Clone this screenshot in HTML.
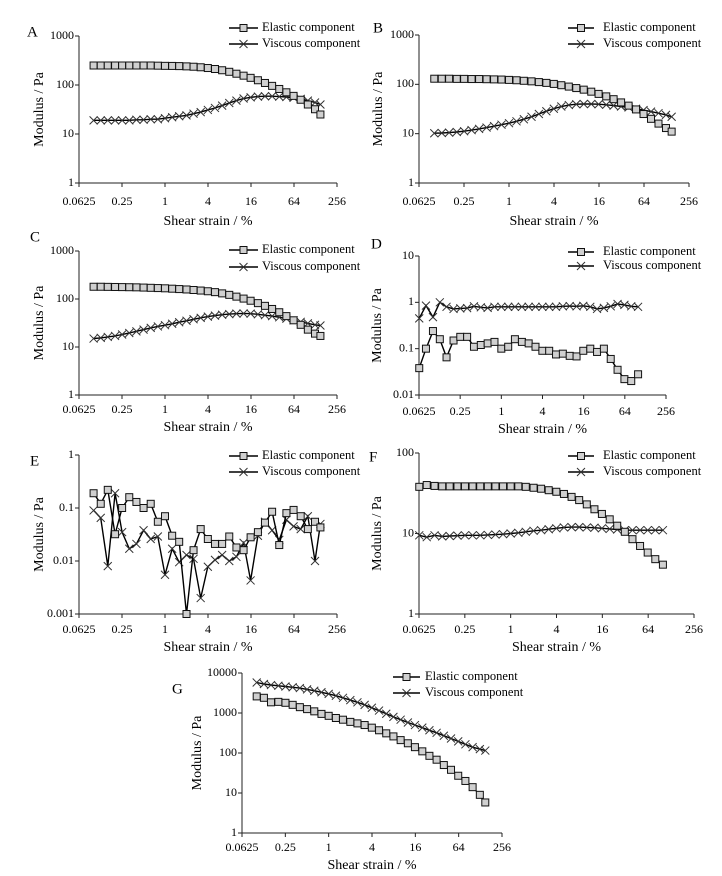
<!DOCTYPE html>
<html><head><meta charset="utf-8"><style>
html,body{margin:0;padding:0;background:#fff;}
svg{display:block;font-family:"Liberation Serif",serif;}
</style></head><body>
<svg id="fig" width="722" height="876" viewBox="0 0 722 876"></svg>
<script>
const strainA = [0.1,0.126,0.158,0.2,0.251,0.316,0.398,0.501,0.631,0.794,1,1.26,1.58,2,2.51,3.16,3.98,5.01,6.31,7.94,10,12.6,15.8,20,25.1,31.6,39.8,50.1,63.1,79.4,100,126,150];
const strainD = [0.063,0.079,0.1,0.126,0.158,0.2,0.251,0.316,0.398,0.501,0.631,0.794,1,1.26,1.58,2,2.51,3.16,3.98,5.01,6.31,7.94,10,12.6,15.8,20,25.1,31.6,39.8,50.1,63.1,79.4,100];
const xTicks = [0.0625,0.25,1,4,16,64,256];
const xTickLabels = ["0.0625","0.25","1","4","16","64","256"];

const aElastic = [250,250,250,250,250,250,250,250,250,248,246,245,243,240,236,230,222,212,200,186,170,155,140,125,110,96,83,71,60,50,40,32,25];
const aViscous = [19,19,19,19,19,19,19.5,19.5,20,20,21,22,23,24,26,28,31,34,38,43,48,53,56,58,59,59,58,57,55,52,48,44,40];
const bElastic = [130,130,130,129,129,128,128,127,126,125,123,121,118,115,111,107,102,96,90,84,78,71,64,57,50,43,37,31,25,20,16,13,11];
const bViscous = [10.2,10.3,10.5,10.8,11.2,11.8,12.5,13.3,14.2,15.2,16.3,17.8,19.6,22,25,28.5,32,35.5,38,39.5,40,40,39.5,38.5,37,35.5,34,32,30,28,26,24,22];
const cElastic = [180,180,179,178,177,176,175,173,171,169,167,164,161,158,154,150,145,139,131,122,112,102,92,82,72,62,53,44,36,29,23,19,17];
const cViscous = [15,15.5,16.2,17,18.2,19.6,21.2,23,25,26.8,28.5,30.5,32.8,35.2,37.8,40.5,43,45,47,48.5,49.5,50,49.5,48,46,44,41.5,39,36,33.5,31,29,28];
const dElastic = [0.038,0.1,0.24,0.16,0.065,0.15,0.18,0.18,0.11,0.12,0.13,0.14,0.1,0.11,0.16,0.14,0.13,0.11,0.09,0.09,0.075,0.078,0.07,0.068,0.09,0.1,0.085,0.1,0.06,0.035,0.022,0.02,0.028];
const dViscous = [0.45,0.85,0.48,1.0,0.8,0.72,0.74,0.75,0.82,0.78,0.76,0.8,0.8,0.8,0.8,0.8,0.8,0.8,0.8,0.8,0.8,0.82,0.83,0.82,0.84,0.8,0.72,0.76,0.82,0.92,0.88,0.82,0.8];
const eElastic = [0.19,0.12,0.22,0.032,0.1,0.16,0.13,0.1,0.12,0.055,0.07,0.03,0.023,0.001,0.016,0.04,0.026,0.021,0.021,0.029,0.018,0.016,0.028,0.035,0.053,0.085,0.02,0.08,0.092,0.07,0.04,0.055,0.043];
const eViscous = [0.09,0.065,0.008,0.19,0.035,0.017,0.021,0.038,0.026,0.029,0.0055,0.017,0.0095,0.013,0.011,0.002,0.0078,0.0105,0.013,0.01,0.012,0.022,0.0043,0.03,0.055,0.038,0.025,0.06,0.045,0.04,0.07,0.01,0.05];
const fElastic = [38,40,39,38.5,38.5,38.5,38.5,38.5,38.5,38.5,38.5,38.5,38.5,38.5,38,37,36,34.5,33,31,28.5,26,23,20,17.5,15,12.5,10.5,8.5,7,5.8,4.8,4.1];
const fViscous = [9.5,9,9.5,9.2,9.3,9.4,9.5,9.5,9.5,9.6,9.7,9.8,10,10.2,10.5,10.8,11,11.3,11.6,11.9,12,12,11.9,11.8,11.6,11.4,11.2,11,11,11,11,11,11];
const gElastic = [2600,2400,1850,1900,1800,1600,1400,1250,1100,950,850,750,680,600,550,500,430,370,310,260,210,175,140,110,85,68,50,38,27,20,14,9,5.8];
const gViscous = [5800,5300,5000,4800,4600,4400,4200,3900,3600,3300,3000,2700,2400,2100,1850,1600,1350,1150,960,800,680,580,500,430,370,320,270,230,195,165,140,125,115];

const yTicksA = [1,10,100,1000];
const yTicksD = [0.01,0.1,1,10];
const yTicksE = [0.001,0.01,0.1,1];
const yTicksF = [1,10,100];
const yTicksG = [1,10,100,1000,10000];

const panels = [
 {id:"a",label:"A",lx:27,ly:33,x0:79,x1:337,yT:36,yB:183,yt:yTicksA,labY:202,titY:222,ytX:40,leg:[229,258,262,28,44],x:strainA,el:aElastic,vi:aViscous},
 {id:"b",label:"B",lx:373,ly:29,x0:419,x1:689,yT:35,yB:183,yt:yTicksA,labY:202,titY:222,ytX:379,leg:[568,594,603,28,44],x:strainA,el:bElastic,vi:bViscous},
 {id:"c",label:"C",lx:30,ly:238,x0:79,x1:337,yT:251,yB:395,yt:yTicksA,labY:410,titY:428,ytX:40,leg:[229,258,262,250,267],x:strainA,el:cElastic,vi:cViscous},
 {id:"d",label:"D",lx:371,ly:245,x0:419,x1:666,yT:256,yB:395,yt:yTicksD,labY:412,titY:430,ytX:378,leg:[568,594,603,252,266],x:strainD,el:dElastic,vi:dViscous},
 {id:"e",label:"E",lx:30,ly:462,x0:79,x1:337,yT:455,yB:614,yt:yTicksE,labY:630,titY:648,ytX:40,leg:[229,258,262,456,472],x:strainA,el:eElastic,vi:eViscous},
 {id:"f",label:"F",lx:369,ly:458,x0:419,x1:694,yT:453,yB:614,yt:yTicksF,labY:630,titY:648,ytX:378,leg:[568,594,603,456,472],x:strainD,el:fElastic,vi:fViscous},
 {id:"g",label:"G",lx:172,ly:690,x0:242,x1:502,yT:673,yB:833,yt:yTicksG,labY:848,titY:866,ytX:198,leg:[393,420,425,677,693],x:strainA,el:gElastic,vi:gViscous}
];

const NS="http://www.w3.org/2000/svg";
const svg=document.getElementById("fig");
function mk(tag,attrs,parent){const e=document.createElementNS(NS,tag);for(const k in attrs)e.setAttribute(k,attrs[k]);parent.appendChild(e);return e;}
function sq(g,x,y){const r=mk("rect",{x:x-3.5,y:y-3.5,width:7,height:7,fill:"#d0d0d0",stroke:"#111","stroke-width":1},g);

}
function cross(g,x,y){const p=mk("path",{d:`M${x-4},${y-4}L${x+4},${y+4}M${x-4},${y+4}L${x+4},${y-4}`,stroke:"#333","stroke-width":1,fill:"none"},g);

}

panels.forEach(P=>{
 const g=mk("g",{},svg);
 
 
 const lx0=Math.log(0.0625), lx1=Math.log(256);
 const ly0=Math.log(P.yt[0]), ly1=Math.log(P.yt[P.yt.length-1]);
 const sx=v=>P.x0+(Math.log(v)-lx0)/(lx1-lx0)*(P.x1-P.x0);
 const sy=v=>P.yB-(Math.log(v)-ly0)/(ly1-ly0)*(P.yB-P.yT);
 const lab=mk("text",{x:P.lx,y:P.ly,"font-size":15,"dominant-baseline":"middle"},g);lab.textContent=P.label;
 
 
 const ya=mk("line",{x1:P.x0,y1:P.yT,x2:P.x0,y2:P.yB,stroke:"#222","stroke-width":1},g);
 
 
 const xa=mk("line",{x1:P.x0,y1:P.yB,x2:P.x1,y2:P.yB,stroke:"#222","stroke-width":1},g);
 
 
 P.yt.forEach(v=>{
  const y=sy(v);
  mk("line",{x1:P.x0-4,y1:y,x2:P.x0,y2:y,stroke:"#222"},g);
  const t=mk("text",{x:P.x0-5,y:y,"font-size":12,"text-anchor":"end","dominant-baseline":"middle"},g);
  t.textContent=String(v);
  
  
 });
 xTicks.forEach((v,i)=>{
  const x=sx(v);
  mk("line",{x1:x,y1:P.yB,x2:x,y2:P.yB+4,stroke:"#222"},g);
  const t=mk("text",{x:x,y:P.labY,"font-size":12,"text-anchor":"middle","dominant-baseline":"middle"},g);
  t.textContent=xTickLabels[i];
  
  
 });
 const xt=mk("text",{x:(P.x0+P.x1)/2,y:P.titY,"font-size":14,"text-anchor":"middle","dominant-baseline":"middle"},g);
 xt.textContent="Shear strain / %";
 
 
 const ym=(P.yT+P.yB)/2;
 const yt=mk("text",{x:P.ytX,y:ym,"font-size":14,"text-anchor":"middle","dominant-baseline":"middle",transform:`rotate(-90 ${P.ytX} ${ym})`},g);
 yt.textContent="Modulus / Pa";
 
 
 [[P.vi,cross,"viscous-line"],[P.el,sq,"elastic-line"]].forEach(([arr,fn,nm])=>{
  const pts=arr.map((v,i)=>sx(P.x[i]).toFixed(1)+","+sy(v).toFixed(1)).join(" ");
  const pl=mk("polyline",{points:pts,fill:"none",stroke:"#000","stroke-width":1.4},g);
  
  
  arr.forEach((v,i)=>fn(g,sx(P.x[i]),sy(v)));
 });
 const [a,b,tx,y1,y2]=P.leg;
 [[y1,"Elastic component",sq,"legend-elastic"],[y2,"Viscous component",cross,"legend-viscous"]].forEach(([y,txt,fn,nm])=>{
  const lg=mk("g",{},g);
  
  
  mk("line",{x1:a,y1:y,x2:b,y2:y,stroke:"#000","stroke-width":1.4},lg);
  fn(lg,(a+b)/2,y);
  const t=mk("text",{x:tx,y:y,"font-size":12.5,"dominant-baseline":"middle"},lg);t.textContent=txt;
 });
});
</script>
</body></html>
